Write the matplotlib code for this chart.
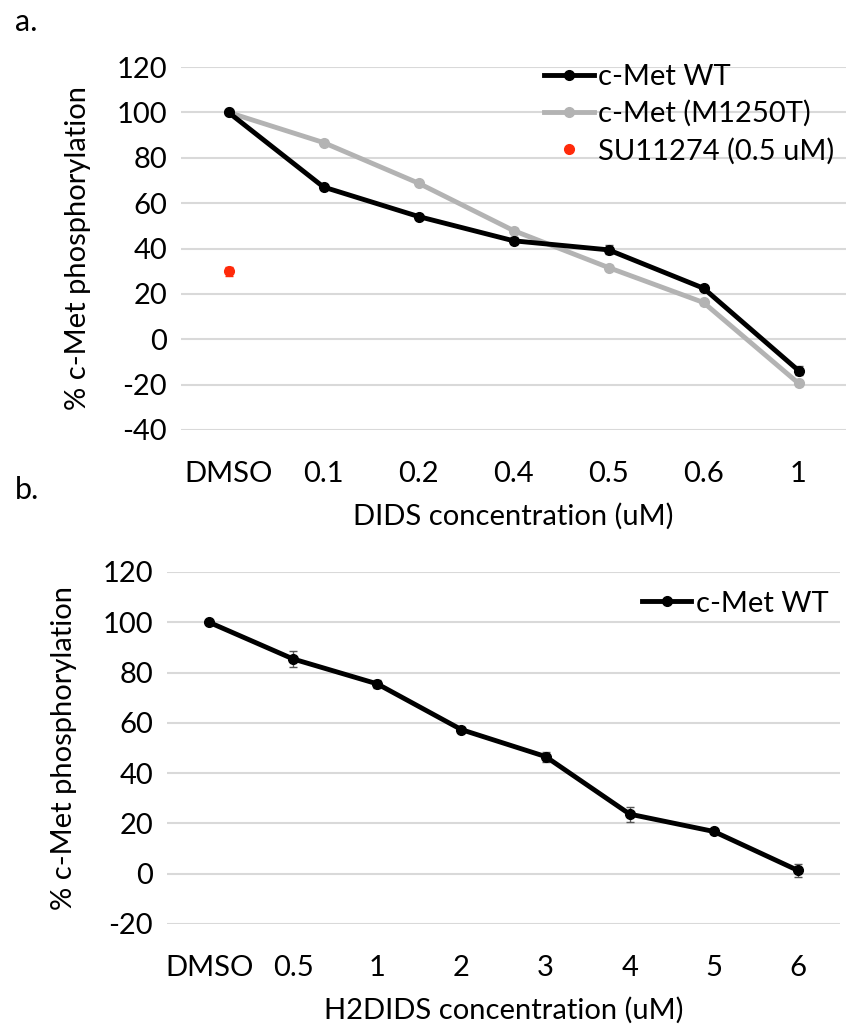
import matplotlib
matplotlib.use("Agg")
import matplotlib.pyplot as plt
from matplotlib.lines import Line2D
import numpy as np

plt.rcParams['font.family'] = ['Lato', 'DejaVu Sans']
plt.rcParams['axes.unicode_minus'] = False

# Panel a data
cats_a = ["DMSO", "0.1", "0.2", "0.4", "0.5", "0.6", "1"]
wt_a = [100, 67.1, 54.1, 43.4, 39.4, 22.5, -13.8]
wt_a_err = [0.5, 1.0, 1.0, 1.5, 2.0, 1.0, 2.0]
m1250t_a = [100, 86.7, 68.8, 47.9, 31.6, 16.2, -19.4]
m1250t_a_err = [0.5, 1.0, 1.0, 1.0, 1.0, 1.0, 1.0]
su_a = [30]
su_a_err = [2.0]

# Panel b data
cats_b = ["DMSO", "0.5", "1", "2", "3", "4", "5", "6"]
wt_b = [100, 85.4, 75.5, 57.3, 46.6, 23.7, 16.8, 1.3]
wt_b_err = [0.5, 3.0, 1.5, 1.0, 2.0, 3.0, 1.0, 2.5]

W, H = 846, 1027
fig = plt.figure(figsize=(W/100, H/100), dpi=100)

grid_c = '#d9d9d9'
fs = 21
black = 'black'
grey = '#b3b3b3'
red = '#ff2a0a'

def style(ax, ylim, yticks):
    ax.set_ylim(*ylim)
    ax.set_yticks(yticks)
    for s in ax.spines.values():
        s.set_visible(False)
    ax.yaxis.grid(True, color=grid_c, lw=1.5)
    ax.set_axisbelow(True)
    ax.tick_params(axis='both', length=0, labelsize=fs)
    ax.tick_params(axis='x', pad=22)
    ax.tick_params(axis='y', pad=10)

# Panel a
axa = fig.add_axes([181/W, (H-430)/H, 665/W, 363/H])
xa = np.arange(len(cats_a))
axa.errorbar(xa, wt_a, yerr=wt_a_err, color=black, lw=3.5, marker='o', ms=7,
             ecolor='#555555', elinewidth=1, capsize=3, zorder=3)
axa.errorbar(xa, m1250t_a, yerr=m1250t_a_err, color=grey, lw=3.5, marker='o', ms=7,
             ecolor='#999999', elinewidth=1, capsize=3, zorder=2)
axa.errorbar(xa[:1], su_a, yerr=su_a_err, color=red, ls='none', marker='o', ms=7,
             ecolor=red, elinewidth=1, capsize=3, zorder=3)
axa.set_xlim(-0.5, len(cats_a)-0.5)
axa.set_xticks(xa)
axa.set_xticklabels(cats_a)
style(axa, (-40, 120), np.arange(-40, 121, 20))
axa.set_ylabel('% c-Met phosphorylation', fontsize=fs, labelpad=18)
axa.set_xlabel('DIDS concentration (uM)', fontsize=fs, labelpad=12)
ha = [Line2D([], [], color=black, lw=3.5, marker='o', ms=7),
      Line2D([], [], color=grey, lw=3.5, marker='o', ms=7),
      Line2D([], [], color=red, ls='none', marker='o', ms=7)]
axa.legend(ha, ['c-Met WT', 'c-Met (M1250T)', 'SU11274 (0.5 uM)'],
           loc='upper right', bbox_to_anchor=(1.0, 1.04), frameon=False, fontsize=fs,
           handlelength=1.7, handletextpad=0.15, labelspacing=0.35, borderaxespad=0)

# Panel b
axb = fig.add_axes([167/W, 103/H, 673/W, 352/H])
xb = np.arange(len(cats_b))
axb.errorbar(xb, wt_b, yerr=wt_b_err, color=black, lw=3.5, marker='o', ms=7,
             ecolor='#555555', elinewidth=1, capsize=3, zorder=3)
axb.set_xlim(-0.5, len(cats_b)-0.5)
axb.set_xticks(xb)
axb.set_xticklabels(cats_b)
style(axb, (-20, 120), np.arange(-20, 121, 20))
axb.set_ylabel('% c-Met phosphorylation', fontsize=fs, labelpad=18)
axb.set_xlabel('H2DIDS concentration (uM)', fontsize=fs, labelpad=12)
hb = [Line2D([], [], color=black, lw=3.5, marker='o', ms=7)]
axb.legend(hb, ['c-Met WT'], loc='upper right', bbox_to_anchor=(1.0, 0.98), frameon=False,
           fontsize=fs, handlelength=1.7, handletextpad=0.15, borderaxespad=0)

fig.text(15/W, 1-22/H, 'a.', fontsize=fs+1, va='center', ha='left')
fig.text(15/W, 1-490/H, 'b.', fontsize=fs+1, va='center', ha='left')

fig.savefig('out.png', dpi=100)
